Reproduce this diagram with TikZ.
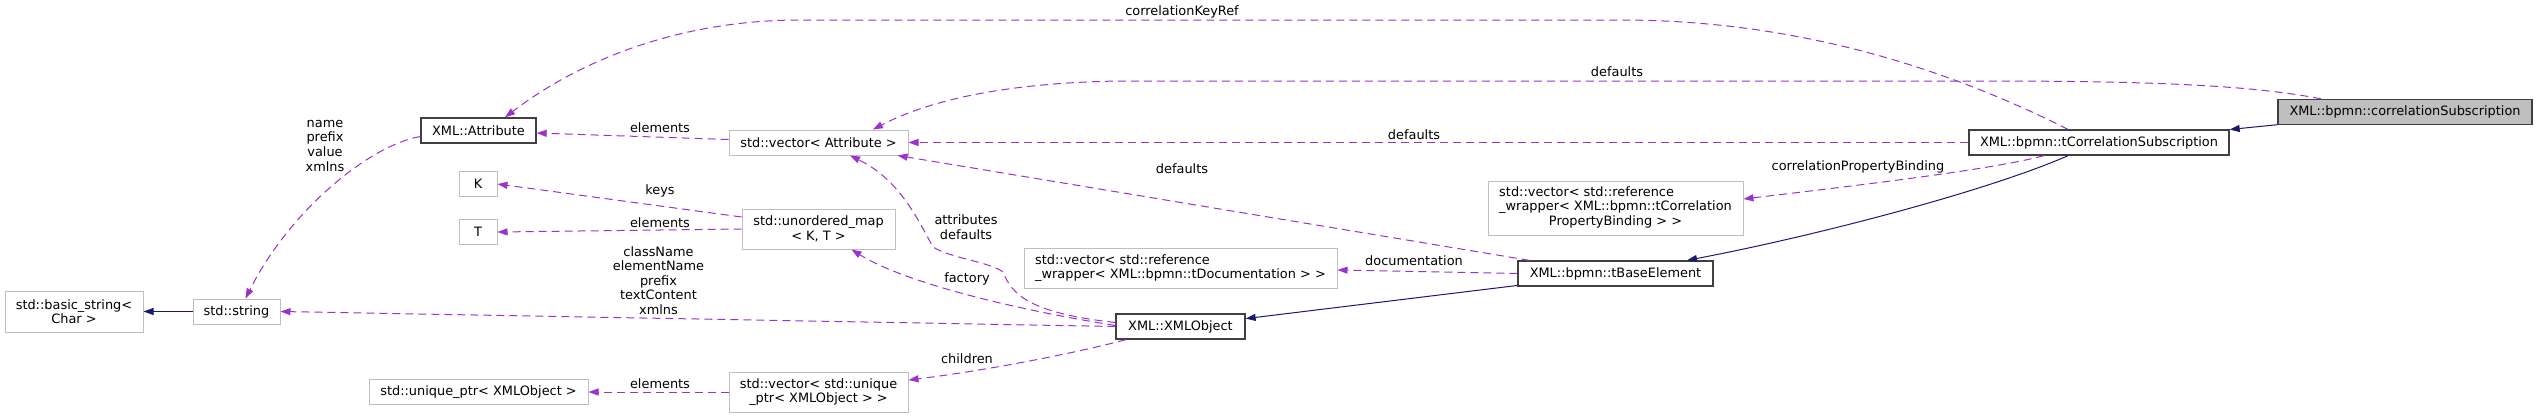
\documentclass[tikz,border=0pt]{standalone}
\usepackage{fontspec}
\setmainfont{DejaVu Sans}
\usetikzlibrary{arrows.meta,calc}
\definecolor{orchid}{HTML}{9A32CD}
\definecolor{navy}{HTML}{191970}
\definecolor{frame}{HTML}{404040}
\definecolor{pale}{HTML}{BFBFBF}

\begin{document}
\begin{tikzpicture}[x=1pt,y=-1pt,font=\fontsize{12.9}{14.6}\selectfont,
  ext/.style={draw=pale,line width=1pt,fill=white,inner sep=0pt,align=center,minimum height=25pt},
  cls/.style={ext,draw=frame,line width=1.3pt},
  dep/.style={orchid,line width=1pt,dash pattern=on 8pt off 5pt,-{Triangle[length=10pt,width=7pt]}},
  inh/.style={navy,line width=1pt,-{Triangle[length=10pt,width=7pt]}},
  lbl/.style={inner sep=0pt,align=center}]
\fill[white] (0,0) rectangle (2537,418);
\node[ext,minimum width=138pt,minimum height=41pt] (bstr) at (74,311.5) {std::basic\_string<\\Char >};
\node[ext,minimum width=87pt] (str) at (236.5,311.5) {std::string};
\node[cls,minimum width=115pt] (attr) at (478.5,130.5) {XML::Attribute};
\node[ext,minimum width=38pt] (k) at (478,184) {K};
\node[ext,minimum width=38pt] (t) at (478,232) {T};
\node[ext,minimum width=219pt] (uptr) at (478.5,392) {std::unique\_ptr< XMLObject >};
\node[ext,minimum width=179pt] (vattr) at (818.5,142.5) {std::vector< Attribute >};
\node[ext,minimum width=153pt,minimum height=40pt] (umap) at (818.5,229) {std::unordered\_map\\< K, T >};
\node[ext,minimum width=179pt,minimum height=40pt] (vuniq) at (818.5,392) {std::vector< std::unique\\\_ptr< XMLObject > >};
\node[ext,align=left,minimum width=313pt,minimum height=40pt] (vdoc) at (1180.5,268) {std::vector< std::reference\\\_wrapper< XML::bpmn::tDocumentation > >};
\node[cls,minimum width=129pt] (xobj) at (1180.5,326.5) {XML::XMLObject};
\node[ext,minimum width=255pt,minimum height=54pt] (vcorr) at (1615.5,208) {\begin{tabular}{@{}l@{}}std::vector< std::reference\\\_wrapper< XML::bpmn::tCorrelation\\\multicolumn{1}{@{}c@{}}{PropertyBinding > >}\end{tabular}};
\node[cls,minimum width=195pt] (tbase) at (1615.5,273.5) {XML::bpmn::tBaseElement};
\node[cls,minimum width=260pt] (tcs) at (2099,142.5) {XML::bpmn::tCorrelationSubscription};
\node[cls,fill=pale,minimum width=254pt] (cs) at (2405,112) {XML::bpmn::correlationSubscription};

\draw[inh] (cs) -- (tcs);
\draw[inh] ($(tcs.south)+(-31,0)$) .. controls (1990,190) and (1820,235) .. ($(tbase.north)+(71.5,0)$);
\draw[inh] (tbase) -- (xobj);
\draw[inh] (str) -- (bstr);
\draw[dep] ($(attr.west)+(0,6)$) .. controls (370,145) and (290,210) .. ($(str.north)+(9,0)$);
\draw[dep] ($(vattr.west)+(0,-3)$) -- ($(attr.east)+(0,2.5)$);
\draw[dep] ($(tcs.north)+(-31,0)$) .. controls (1950,70) and (1800,20) .. (1620,20) -- (800,20) .. controls (680,20) and (580,60) .. ($(attr.north)+(26.5,0)$);
\draw[dep] ($(cs.north)+(-84,0)$) .. controls (2250,85) and (2150,81) .. (1980,81) -- (1120,81) .. controls (990,83) and (920,105) .. ($(vattr.north)+(54.5,0)$);
\draw[dep] (tcs.west) -- (vattr.east);
\draw[dep] ($(tbase.north west)+(12,0)$) -- ($(vattr.south east)+(-11,0)$);
\draw[dep] ($(tcs.south)+(-55,0)$) .. controls (1990,170) and (1860,185) .. ($(vcorr.east)+(0,-9)$);
\draw[dep] (tbase.west) -- ($(vdoc.east)+(0,2)$);
\draw[dep] (xobj.west) -- (str.east);
\draw[dep] ($(xobj.west)+(0,-4)$) .. controls (1030,313) and (1012,295) .. (1003,272) .. controls (990,262) and (950,258) .. (933,247) .. controls (918,220) and (900,180) .. ($(vattr.south)+(31.5,0)$);
\draw[dep] ($(xobj.west)+(0,-1)$) .. controls (1000,307) and (900,280) .. ($(umap.south)+(33,0)$);
\draw[dep] ($(xobj.south west)+(10.5,0)$) .. controls (1080,352) and (990,370) .. ($(vuniq.east)+(0,-12)$);
\draw[dep] ($(umap.west)+(0,-12)$) -- (k.east);
\draw[dep] (umap.west) -- (t.east);
\draw[dep] (vuniq.west) -- (uptr.east);

\node[lbl] (lname) at (325,145.6) {name\\prefix\\value\\xmlns};
\node[lbl] (lelem) at (660,127.3) {elements};
\node[lbl] (lkeys) at (660,190.7) {keys};
\node[lbl] (lelemt) at (660,222.3) {elements};
\node[lbl] (lclass) at (658.5,280.5) {className\\elementName\\prefix\\textContent\\xmlns};
\node[lbl] (lelemu) at (660,383.3) {elements};
\node[lbl] (lkey) at (1182,11.7) {correlationKeyRef};
\node[lbl] (ldefa) at (1617,72) {defaults};
\node[lbl] (ldefb) at (1414,135) {defaults};
\node[lbl] (ldefc) at (1182,168.3) {defaults};
\node[lbl] (lattr) at (966,227) {attributes\\defaults};
\node[lbl] (lfact) at (967,279) {factory};
\node[lbl] (lchild) at (967,358.3) {children};
\node[lbl] (lbind) at (1858,167.3) {correlationPropertyBinding};
\node[lbl] (ldoc) at (1414,260.7) {documentation};
\end{tikzpicture}
\end{document}
